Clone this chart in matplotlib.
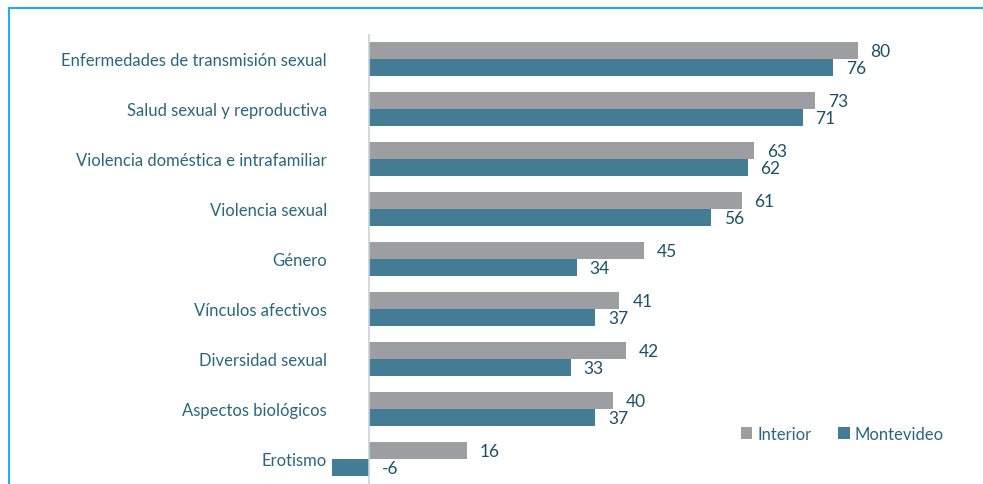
import matplotlib
matplotlib.use("Agg")
from matplotlib import pyplot as plt
import numpy as np

categories = [
    "Enfermedades de transmisión sexual",
    "Salud sexual y reproductiva",
    "Violencia doméstica e intrafamiliar",
    "Violencia sexual",
    "Género",
    "Vínculos afectivos",
    "Diversidad sexual",
    "Aspectos biológicos",
    "Erotismo",
]
interior = [80, 73, 63, 61, 45, 41, 42, 40, 16]
montevideo = [76, 71, 62, 56, 34, 37, 33, 37, -6]
series_names = ["Interior", "Montevideo"]

gray = "#9d9ea1"
teal = "#437c94"
label_color = "#2a6680"
value_color = "#1d4f6c"

plt.rcParams["font.family"] = ["Lato", "DejaVu Sans"]

fig = plt.figure(figsize=(9.83, 4.85), dpi=100)
ax = fig.add_axes([0.3052, 0.0, 0.6612, 0.9278])

y = np.arange(len(categories))
h = 0.34
ax.barh(y - h / 2, interior, height=h, color=gray, label=series_names[0])
ax.barh(y + h / 2, montevideo, height=h, color=teal, label=series_names[1])

for i, (a, b) in enumerate(zip(interior, montevideo)):
    ax.text(max(a, 0) + 2.1, i - h / 2, str(a), va="center", ha="left",
            fontsize=12.5, color=value_color)
    ax.text(max(b, 0) + 2.1, i + h / 2, str(b), va="center", ha="left",
            fontsize=12.5, color=value_color)

ax.set_xlim(-11.3, 95.1)
ax.set_ylim(8.5, -0.5)
ax.set_yticks([])
ax.set_xticks([])
for s in ["top", "right", "bottom", "left"]:
    ax.spines[s].set_visible(False)
ax.axvline(0, color="#c9d3da", lw=1.2)

# category labels at fixed right edge
for i, c in enumerate(categories):
    fig.text(327 / 983, 1 - (60 + 50 * i + 1) / 485, c, ha="right", va="center",
             fontsize=12, color=label_color)

leg = ax.legend(loc="lower left", bbox_to_anchor=(0.655, 0.06), ncol=2, frameon=False,
                fontsize=12, handlelength=0.7, handleheight=0.7, handletextpad=0.3,
                columnspacing=1.6)
for t in leg.get_texts():
    t.set_color(label_color)

# light blue frame around the figure
fig.add_artist(plt.Line2D([9 / 983, 9 / 983], [0, 1 - 9 / 485], color="#22aee8", lw=1.5))
fig.add_artist(plt.Line2D([9 / 983, 1], [1 - 9 / 485, 1 - 9 / 485], color="#22aee8", lw=1.5))

fig.savefig("out.png", dpi=100)
